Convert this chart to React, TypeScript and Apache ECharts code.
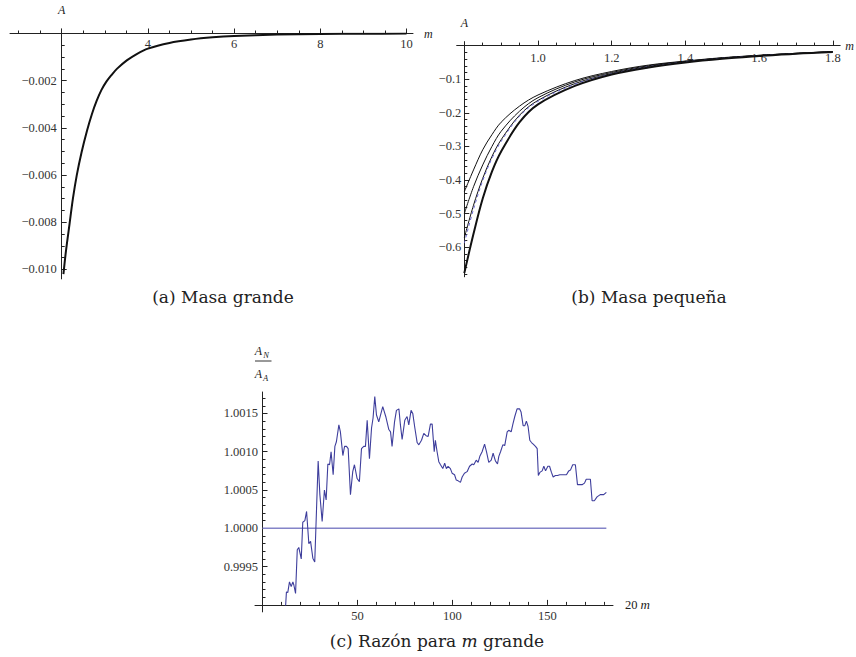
import React, { useEffect, useRef } from "react";
import * as echarts from "echarts";

// ---------- (a) Masa grande ----------
const largeMassM = [2.04, 2.1, 2.18, 2.26, 2.35, 2.46, 2.59, 2.7, 2.81, 2.92, 3.04, 3.16, 3.28, 3.51, 3.74, 4.0, 4.5, 5.0, 5.5, 6.0, 7.0, 8.0, 9.0, 10.0];
const largeMassA = [-0.0102, -0.0092, -0.0081, -0.007, -0.006, -0.00504, -0.0041, -0.00342, -0.00286, -0.0024, -0.00203, -0.00175, -0.0015, -0.00114, -0.00087, -0.00064, -0.0004, -0.000256, -0.000163, -0.000106, -0.000045, -0.00002, -0.000009, -0.000004];

// ---------- (b) Masa pequeña ----------
const smallMassM = [0.8, 0.825, 0.85, 0.875, 0.9, 0.95, 1.0, 1.1, 1.2, 1.3, 1.4, 1.5, 1.6, 1.7, 1.8];
const smallA1 = [-0.435, -0.37, -0.31, -0.265, -0.228, -0.18, -0.147, -0.104, -0.077, -0.058, -0.046, -0.036, -0.029, -0.023, -0.018];
const smallA2 = [-0.5, -0.42, -0.355, -0.3, -0.255, -0.195, -0.155, -0.108, -0.08, -0.06, -0.047, -0.037, -0.029, -0.023, -0.018];
const smallA3 = [-0.572, -0.475, -0.395, -0.33, -0.28, -0.207, -0.163, -0.113, -0.083, -0.062, -0.048, -0.037, -0.03, -0.024, -0.018];
const smallADashed = [-0.588, -0.487, -0.402, -0.336, -0.285, -0.21, -0.166, -0.115, -0.084, -0.063, -0.049, -0.038, -0.03, -0.024, -0.019];
const smallA5 = [-0.677, -0.56, -0.455, -0.375, -0.315, -0.228, -0.175, -0.12, -0.086, -0.065, -0.05, -0.039, -0.031, -0.024, -0.019];

// ---------- (c) Razón para m grande ----------
const ratioData: [number, number][] = [
  [12.1, 0.99896], [12.6, 0.99917], [13.3, 0.99916], [14.2, 0.9993], [15.1, 0.99924], [16.0, 0.9993],
  [16.5, 0.99926], [17.4, 0.99915], [18.3, 0.99972], [19.1, 0.99975], [20.4, 0.9996], [21.2, 1.00008],
  [22.3, 1.0001], [23.2, 1.00022], [24.4, 0.9998], [25.3, 0.99983], [26.5, 0.99961], [27.5, 0.99956],
  [29.3, 1.00088], [30.2, 1.00044], [31.4, 1.00009], [32.6, 1.0005], [33.5, 1.00037], [34.4, 1.00084],
  [35.3, 1.00083], [36.1, 1.001], [37.2, 1.0007], [38.1, 1.00107], [38.9, 1.00113], [40.2, 1.00135],
  [41.0, 1.00126], [42.3, 1.00095], [43.2, 1.00107], [44.2, 1.00107], [45.1, 1.00104], [46.3, 1.00044],
  [47.5, 1.00074], [48.4, 1.00083], [49.8, 1.00065], [51.0, 1.00061], [52.1, 1.00104], [53.3, 1.00107],
  [54.2, 1.00107], [55.1, 1.00141], [56.3, 1.00091], [57.4, 1.00131], [58.2, 1.00144], [59.1, 1.00172],
  [60.0, 1.00148], [61.2, 1.00139], [63.3, 1.00159], [65.0, 1.00145], [66.5, 1.00129], [67.4, 1.00126],
  [68.2, 1.00107], [69.5, 1.00139], [70.5, 1.00154], [71.8, 1.00156], [72.6, 1.00135], [73.5, 1.00116],
  [74.9, 1.00141], [76.1, 1.00146], [77.0, 1.00135], [78.2, 1.00154], [79.1, 1.0015], [80.2, 1.00131],
  [81.4, 1.00112], [82.3, 1.00109], [83.7, 1.00115], [84.9, 1.00124], [86.1, 1.00121], [87.2, 1.0012],
  [88.4, 1.00136], [89.3, 1.00136], [90.4, 1.001], [91.0, 1.00115], [91.9, 1.001], [92.8, 1.00087],
  [93.7, 1.00083], [94.9, 1.00078], [95.9, 1.00085], [96.8, 1.00078], [97.7, 1.00081], [98.9, 1.00078],
  [99.8, 1.00072], [101.1, 1.0007], [102.0, 1.00063], [103.0, 1.00062], [104.2, 1.0006], [105.1, 1.00067],
  [106.3, 1.00072], [107.7, 1.00074], [109.0, 1.00081], [110.4, 1.00084], [111.2, 1.00083], [112.5, 1.00089],
  [113.5, 1.00086], [114.4, 1.00094], [115.6, 1.001], [116.9, 1.0011], [117.9, 1.001], [119.1, 1.00086],
  [120.4, 1.00089], [121.4, 1.00098], [122.6, 1.00088], [123.7, 1.00084], [124.4, 1.00094], [125.3, 1.001],
  [126.5, 1.00109], [127.5, 1.00108], [128.8, 1.00126], [129.6, 1.00128], [130.9, 1.00126], [131.8, 1.00136],
  [132.8, 1.00146], [134.0, 1.00156], [135.3, 1.00156], [136.1, 1.00152], [137.2, 1.00134], [138.1, 1.00134],
  [138.9, 1.0014], [139.8, 1.00133], [140.7, 1.00115], [141.6, 1.00112], [142.5, 1.0011], [143.7, 1.00107],
  [144.6, 1.00104], [145.2, 1.00069], [146.0, 1.00073], [147.2, 1.00075], [148.1, 1.00081], [149.0, 1.00075],
  [150.2, 1.00081], [151.1, 1.00081], [152.1, 1.00073], [153.0, 1.00067], [154.2, 1.00069], [155.3, 1.00069],
  [156.5, 1.0007], [157.7, 1.0007], [158.9, 1.0007], [160.0, 1.0007], [161.2, 1.00075], [162.1, 1.00076],
  [163.3, 1.00083], [164.7, 1.00083], [165.8, 1.00057], [166.8, 1.00057], [168.2, 1.00057], [169.5, 1.00059],
  [170.4, 1.00064], [171.8, 1.00064], [172.6, 1.00064], [173.5, 1.00036], [174.7, 1.00036], [176.1, 1.00041],
  [177.8, 1.00044], [179.6, 1.00044], [181.0, 1.00047],
];
const referenceM = [0, 181];
const referenceRatio = [1, 1];

// ---------- tick labels ----------
const tlXMajor = [4, 6, 8, 10];
const tlYMajor = [-0.01, -0.008, -0.006, -0.004, -0.002];
const trXMajor = [1.0, 1.2, 1.4, 1.6, 1.8];
const trYMajor = [-0.6, -0.5, -0.4, -0.3, -0.2, -0.1];
const bXMajor = [50, 100, 150];
const bYMajor = [0.9995, 1.0, 1.0005, 1.001, 1.0015];

function minorTicks(from: number, to: number, step: number, major: number[]): number[] {
  const out: number[] = [];
  const n = Math.round((to - from) / step);
  for (let i = 0; i <= n; i++) {
    const v = +(from + i * step).toFixed(8);
    if (!major.some((mj) => Math.abs(mj - v) < step / 10)) out.push(v);
  }
  return out;
}

const serif = "Liberation Serif";
const ink = "#222";
const labelColor = "#333";
const minus = (s: string) => s.replace("-", "\u2212");

function ax(o: any) {
  return {
    type: "value",
    gridIndex: o.g,
    min: o.min,
    max: o.max,
    position: o.pos,
    name: o.name,
    nameLocation: "end",
    nameGap: o.nameGap,
    nameTextStyle: o.nameStyle,
    axisLine: { show: !!o.line, lineStyle: { color: ink, width: 1 } },
    axisTick: o.ticks && o.ticks.length
      ? { show: true, inside: !!o.tickInside, length: o.tickLen, customValues: o.ticks, lineStyle: { color: ink, width: 1 } }
      : { show: false },
    axisLabel: o.labels
      ? { show: true, inside: !!o.labelInside, customValues: o.labels, formatter: o.fmt, margin: o.margin, fontFamily: serif, fontSize: 12.5, color: labelColor }
      : { show: false },
    splitLine: { show: false },
    minorTick: { show: false },
    minorSplitLine: { show: false },
  };
}
function hid(g: number, min: number, max: number, pos: string) {
  return { type: "value", gridIndex: g, min, max, position: pos, show: false };
}

const nameStyle = { fontFamily: serif, fontStyle: "italic", fontSize: 12, color: ink };

const TL = { xMin: 2, xMax: 10.15, yMin: -0.0104, yMax: 0 };
const TR = { xMin: 0.8, xMax: 1.82, yMin: -0.688, yMax: 0 };
const BC = { xMin: 0, xMax: 184.5, yMin: 0.999, yMax: 1.00178 };

const gb = { containLabel: false, outerBoundsMode: "none" };
const tlRect = { left: 61.7, top: 33.5, width: 351.3, height: 245.4 };
const trRect = { left: 464.3, top: 45.6, width: 375.9, height: 231.2 };
const bRect = { left: 262.5, top: 392, width: 350.5, height: 212.9 };

const option: any = {
  animation: false,
  backgroundColor: "#ffffff",
  grid: [
    { ...gb, ...tlRect },
    { ...gb, ...tlRect },
    { ...gb, left: 10, top: tlRect.top, width: 51.7, height: tlRect.height },
    { ...gb, left: tlRect.left, top: 28.8, width: 10, height: 4.7 },
    { ...gb, ...trRect },
    { ...gb, ...trRect },
    { ...gb, left: 456.7, top: trRect.top, width: 7.6, height: trRect.height },
    { ...gb, left: trRect.left, top: 41.6, width: 10, height: 4 },
    { ...gb, ...bRect },
    { ...gb, ...bRect },
    { ...gb, left: 255, top: bRect.top, width: 7.5, height: bRect.height },
    { ...gb, left: bRect.left, top: 604.9, width: 10, height: 7 },
  ],
  xAxis: [
    // (a)
    ax({ g: 0, min: TL.xMin, max: TL.xMax, pos: "top", line: true, ticks: tlXMajor, tickLen: 5, tickInside: false, labels: tlXMajor, labelInside: true, fmt: (v: number) => String(v), margin: 4, name: "m", nameGap: 11, nameStyle }),
    ax({ g: 1, min: TL.xMin, max: TL.xMax, pos: "top", line: false, ticks: minorTicks(2.5, 10, 0.5, tlXMajor), tickLen: 3, tickInside: false }),
    ax({ g: 2, min: 0.8, max: 2, pos: "top", line: true, ticks: [1, 1.5], tickLen: 3, tickInside: false }),
    hid(3, 0, 1, "bottom"),
    // (b)
    ax({ g: 4, min: TR.xMin, max: TR.xMax, pos: "top", line: true, ticks: trXMajor, tickLen: 5, tickInside: false, labels: trXMajor, labelInside: true, fmt: (v: number) => v.toFixed(1), margin: 6, name: "m", nameGap: 5, nameStyle }),
    ax({ g: 5, min: TR.xMin, max: TR.xMax, pos: "top", line: false, ticks: minorTicks(0.85, 1.8, 0.05, trXMajor), tickLen: 3, tickInside: false }),
    ax({ g: 6, min: 0.779, max: 0.8, pos: "top", line: true }),
    hid(7, 0, 1, "bottom"),
    // (c)
    ax({
      g: 8, min: BC.xMin, max: BC.xMax, pos: "bottom", line: true, ticks: bXMajor, tickLen: 5, tickInside: true, labels: bXMajor, fmt: (v: number) => String(v), margin: 5,
      name: "{a|20}{b|m}", nameGap: 12,
      nameStyle: { rich: { a: { fontFamily: serif, fontSize: 12.5, color: ink }, b: { fontFamily: serif, fontStyle: "italic", fontSize: 13, color: ink, padding: [0, 0, 0, 3] } } },
    }),
    ax({ g: 9, min: BC.xMin, max: BC.xMax, pos: "bottom", line: false, ticks: minorTicks(10, 180, 10, bXMajor), tickLen: 3, tickInside: true }),
    ax({ g: 10, min: -3.95, max: 0, pos: "bottom", line: true }),
    hid(11, 0, 1, "bottom"),
  ],
  yAxis: [
    // (a)
    ax({ g: 0, min: TL.yMin, max: TL.yMax, pos: "left", line: true, ticks: tlYMajor, tickLen: 5, tickInside: true, labels: tlYMajor, fmt: (v: number) => minus(v.toFixed(3)), margin: 5, name: "A", nameGap: 18, nameStyle }),
    ax({ g: 1, min: TL.yMin, max: TL.yMax, pos: "left", line: false, ticks: minorTicks(-0.01, -0.0005, 0.0005, tlYMajor), tickLen: 3, tickInside: true }),
    hid(2, TL.yMin, TL.yMax, "left"),
    ax({ g: 3, min: 0, max: 1, pos: "left", line: true }),
    // (b)
    ax({ g: 4, min: TR.yMin, max: TR.yMax, pos: "left", line: true, ticks: trYMajor, tickLen: 5, tickInside: true, labels: trYMajor, fmt: (v: number) => minus(v.toFixed(1)), margin: 3, name: "A", nameGap: 17, nameStyle }),
    ax({ g: 5, min: TR.yMin, max: TR.yMax, pos: "left", line: false, ticks: minorTicks(-0.68, -0.02, 0.02, trYMajor), tickLen: 3, tickInside: true }),
    hid(6, TR.yMin, TR.yMax, "left"),
    ax({ g: 7, min: 0, max: 1, pos: "left", line: true }),
    // (c)
    ax({ g: 8, min: BC.yMin, max: BC.yMax, pos: "left", line: true, ticks: bYMajor, tickLen: 5, tickInside: true, labels: bYMajor, fmt: (v: number) => v.toFixed(4), margin: 4.5 }),
    ax({ g: 9, min: BC.yMin, max: BC.yMax, pos: "left", line: false, ticks: minorTicks(0.9991, 1.0017, 0.0001, bYMajor), tickLen: 3, tickInside: true }),
    hid(10, BC.yMin, BC.yMax, "left"),
    ax({ g: 11, min: 0, max: 1, pos: "left", line: true }),
  ],
  series: [
    {
      type: "line", xAxisIndex: 0, yAxisIndex: 0, showSymbol: false, smooth: 0.3,
      data: largeMassM.map((m, i) => [m, largeMassA[i]]),
      lineStyle: { color: "#111", width: 2 },
    },
    ...[smallA1, smallA2, smallA3].map((arr) => ({
      type: "line", xAxisIndex: 4, yAxisIndex: 4, showSymbol: false, smooth: 0.35,
      data: smallMassM.map((m, i) => [m, arr[i]]),
      lineStyle: { color: "#111", width: 1 },
    })),
    {
      type: "line", xAxisIndex: 4, yAxisIndex: 4, showSymbol: false, smooth: 0.35,
      data: smallMassM.map((m, i) => [m, smallADashed[i]]),
      lineStyle: { color: "#6a6ad2", width: 1, type: [3, 3] },
    },
    {
      type: "line", xAxisIndex: 4, yAxisIndex: 4, showSymbol: false, smooth: 0.35,
      data: smallMassM.map((m, i) => [m, smallA5[i]]),
      lineStyle: { color: "#111", width: 2 },
    },
    {
      type: "line", xAxisIndex: 8, yAxisIndex: 8, showSymbol: false,
      data: referenceM.map((m, i) => [m, referenceRatio[i]]),
      lineStyle: { color: "#8484c8", width: 1.6 },
    },
    {
      type: "line", xAxisIndex: 8, yAxisIndex: 8, showSymbol: false,
      data: ratioData,
      lineStyle: { color: "#3e3e9c", width: 1.1 },
    },
  ],
  graphic: [
    { type: "text", x: 223, y: 297, style: { text: "(a) Masa grande", fontFamily: "DejaVu Serif", fontSize: 17, fill: ink, align: "center", verticalAlign: "middle" } },
    { type: "text", x: 649, y: 297, style: { text: "(b) Masa pequeña", fontFamily: "DejaVu Serif", fontSize: 17, fill: ink, align: "center", verticalAlign: "middle" } },
    {
      type: "text", x: 437, y: 641,
      style: {
        text: "(c) Razón para {i|m} grande", fontFamily: "DejaVu Serif", fontSize: 17, fill: ink, align: "center", verticalAlign: "middle",
        rich: { i: { fontFamily: "DejaVu Serif", fontStyle: "italic", fontSize: 17, fill: ink } },
      },
    },
    { type: "text", x: 258.3, y: 350.5, style: { text: "A", fontFamily: serif, fontStyle: "italic", fontSize: 12, fill: ink, align: "center", verticalAlign: "middle" } },
    { type: "text", x: 266, y: 354.5, style: { text: "N", fontFamily: serif, fontStyle: "italic", fontSize: 8.5, fill: ink, align: "center", verticalAlign: "middle" } },
    { type: "line", shape: { x1: 255, y1: 361, x2: 271.5, y2: 361 }, style: { stroke: "#333", lineWidth: 1 } },
    { type: "text", x: 258.3, y: 373.5, style: { text: "A", fontFamily: serif, fontStyle: "italic", fontSize: 12, fill: ink, align: "center", verticalAlign: "middle" } },
    { type: "text", x: 265.5, y: 377.5, style: { text: "A", fontFamily: serif, fontStyle: "italic", fontSize: 8.5, fill: ink, align: "center", verticalAlign: "middle" } },
  ],
};

export default function App() {
  const ref = useRef<HTMLDivElement>(null);
  useEffect(() => {
    if (!ref.current) return;
    const chart = echarts.init(ref.current, undefined, { renderer: "svg" });
    chart.setOption(option);
    return () => chart.dispose();
  }, []);
  return (
    <div
      ref={ref}
      style={{ position: "absolute", left: 0, top: 0, width: 856, height: 657, background: "#fff" }}
    />
  );
}
